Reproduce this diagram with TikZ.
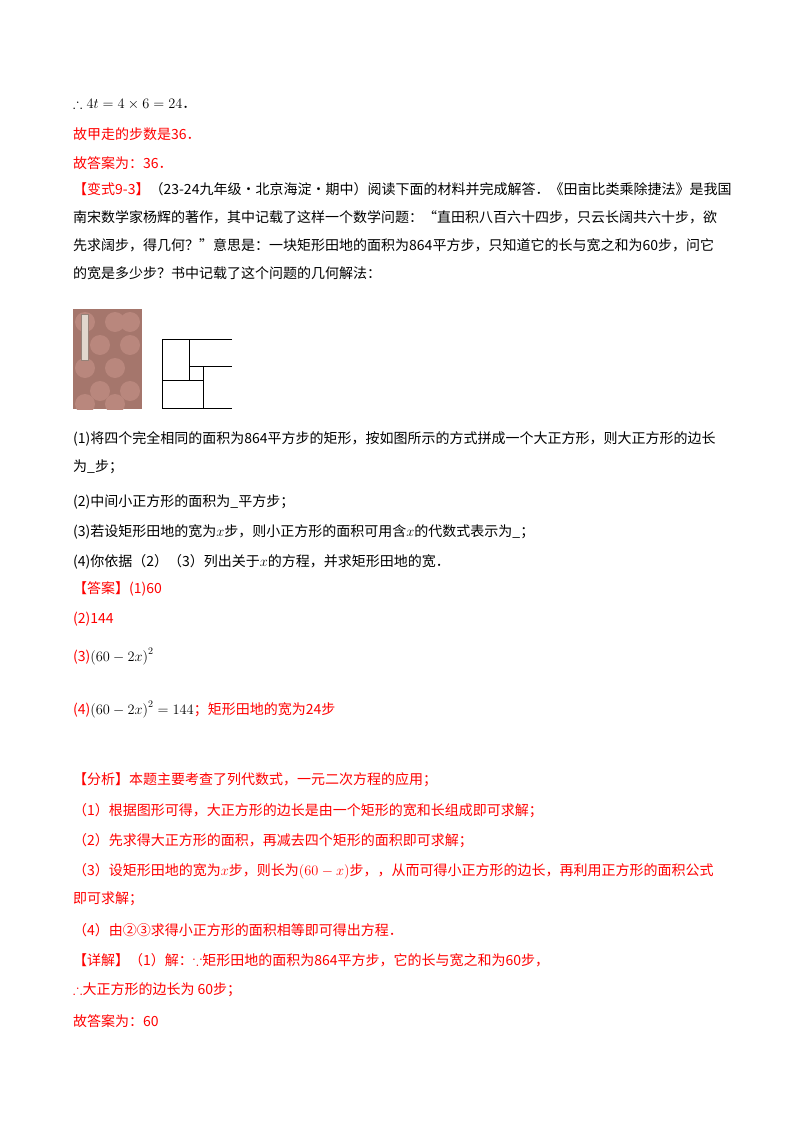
\documentclass[tikz,border=0pt]{standalone}
\usepackage{amssymb}
\usepackage{fontspec}
\setmainfont{Noto Sans CJK SC}
\definecolor{bookA}{RGB}{165,118,108}
\definecolor{bookB}{RGB}{185,135,125}
\definecolor{bookC}{RGB}{225,215,205}
\definecolor{bookD}{RGB}{150,130,120}
\begin{document}
\begin{tikzpicture}[x=1pt,y=-1pt,
  t/.style={anchor=west,inner sep=0pt,font=\fontsize{14}{16}\selectfont},
  rt/.style={t,text=red}]
\useasboundingbox[fill=white] (0,0) rectangle (800,1132);
\node[t] (l1) at (73,104) {$\therefore 4t=4\times 6=24$．};
\node[rt] (l2) at (73,134) {故甲走的步数是36．};
\node[rt] (l3) at (73,163) {故答案为：36．};
\node[t] (l4) at (73,189) {\textcolor{red}{【变式9-3】}（23-24九年级·北京海淀·期中）阅读下面的材料并完成解答．《田亩比类乘除捷法》是我国};
\node[t] (l5) at (73,217) {南宋数学家杨辉的著作，其中记载了这样一个数学问题：“直田积八百六十四步，只云长阔共六十步，欲};
\node[t] (l6) at (73,245) {先求阔步，得几何？”意思是：一块矩形田地的面积为864平方步，只知道它的长与宽之和为60步，问它};
\node[t] (l7) at (73,273) {的宽是多少步？书中记载了这个问题的几何解法：};
% book
\fill[bookA] (73,309) rectangle (142,409);
\begin{scope}
\clip (73,309) rectangle (142,409);
\foreach \cx/\cy in {85/322,115/322,100/345,130/345,85/368,115/368,100/391,130/391,85/404,115/404,130/322}
  \fill[bookB] (\cx,\cy) circle (10);
\end{scope}
\fill[bookC] (81,314) rectangle (88,360);
\draw[bookD,line width=0.3] (81,314) rectangle (88,360);
% squares
\draw[line width=0.8] (232,339) -- (162,339) -- (162,408) -- (232,408);
\draw[line width=0.8] (189,339) -- (189,380);
\draw[line width=0.8] (189,366) -- (232,366);
\draw[line width=0.8] (203,366) -- (203,408);
\draw[line width=0.8] (162,380) -- (203,380);
\node[t] (q1) at (73,439) {(1)将四个完全相同的面积为864平方步的矩形，按如图所示的方式拼成一个大正方形，则大正方形的边长};
\node[t] (q1b) at (73,467) {为\_步；};
\node[t] (q2) at (73,502) {(2)中间小正方形的面积为\_平方步；};
\node[t] (q3) at (73,532) {(3)若设矩形田地的宽为$x$步，则小正方形的面积可用含$x$的代数式表示为\_；};
\node[t] (q4) at (73,562) {(4)你依据（2）（3）列出关于$x$的方程，并求矩形田地的宽．};
\node[rt] (a1) at (73,589) {【答案】(1)60};
\node[rt] (a2) at (73,619) {(2)144};
\node[t] (a3) at (73,657) {\textcolor{red}{(3)}$\left(60-2x\right)^2$};
\node[t] (a4) at (73,710) {\textcolor{red}{(4)}$\left(60-2x\right)^2=144$\textcolor{red}{；矩形田地的宽为24步}};
\node[rt] (f0) at (73,780) {【分析】本题主要考查了列代数式，一元二次方程的应用；};
\node[rt] (f1) at (73,811) {（1）根据图形可得，大正方形的边长是由一个矩形的宽和长组成即可求解；};
\node[rt] (f2) at (73,841) {（2）先求得大正方形的面积，再减去四个矩形的面积即可求解；};
\node[rt] (f3) at (73,871) {（3）设矩形田地的宽为$x$步，则长为$\left(60-x\right)$步，，从而可得小正方形的边长，再利用正方形的面积公式};
\node[rt] (f3b) at (73,899) {即可求解；};
\node[rt] (f4) at (73,930) {（4）由②③求得小正方形的面积相等即可得出方程．};
\node[rt] (d0) at (73,960) {【详解】（1）解：$\because$矩形田地的面积为864平方步，它的长与宽之和为60步，};
\node[rt] (d1) at (73,990) {$\therefore$大正方形的边长为 60步；};
\node[rt] (d2) at (73,1021) {故答案为：60};
\end{tikzpicture}
\end{document}
